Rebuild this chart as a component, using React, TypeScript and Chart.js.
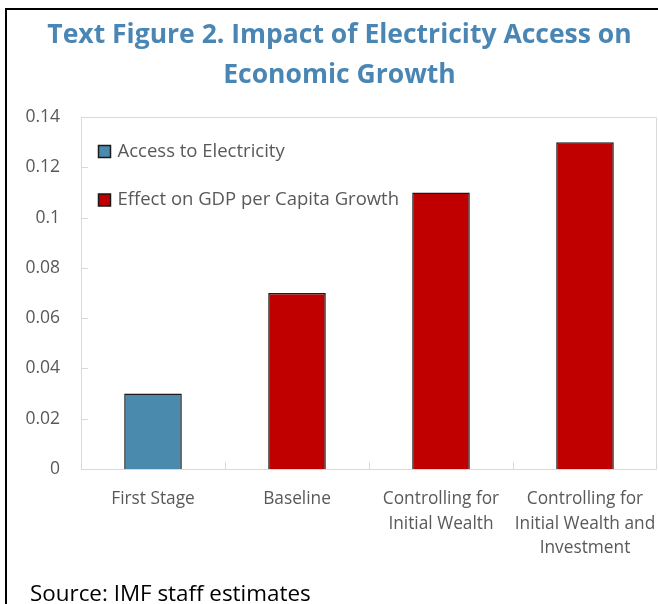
import React, { useEffect, useRef } from "react";
import { Chart, registerables } from "chart.js";

Chart.register(...registerables);

const titleLines = ["Text Figure 2. Impact of Electricity Access on", "Economic Growth"];
const categories: string[][] = [
  ["First Stage"],
  ["Baseline"],
  ["Controlling for", "Initial Wealth"],
  ["Controlling for", "Initial Wealth and", "Investment"],
];
const seriesNames = ["Access to Electricity", "Effect on GDP per Capita Growth"];
const accessValues: (number | null)[] = [0.03, null, null, null];
const effectValues: (number | null)[] = [null, 0.07, 0.11, 0.13];
const yMin = 0;
const yMax = 0.14;
const yStep = 0.02;
const sourceText = "Source: IMF staff estimates";

const FONT = "'Open Sans', 'Noto Sans', sans-serif";
const BLUE = "#4a8aad";
const RED = "#c00000";
const EDGE = "#1a1a1a";
const FRAME = "#d9d9d9";
const TEXT = "#595959";
const TITLE = "#4a86b4";

const framePlugin = {
  id: "frameAndTicks",
  beforeDatasetsDraw(chart: any) {
    const { ctx, chartArea: ca, scales } = chart;
    ctx.save();
    ctx.strokeStyle = FRAME;
    ctx.lineWidth = 1;
    ctx.beginPath();
    ctx.rect(Math.round(ca.left) + 0.5, Math.round(ca.top) + 0.5, Math.round(ca.right - ca.left) - 1, Math.round(ca.bottom - ca.top));
    ctx.stroke();
    const y = scales.y;
    ctx.beginPath();
    y.ticks.forEach((t: any) => {
      const py = Math.round(y.getPixelForValue(t.value)) + 0.5;
      ctx.moveTo(ca.left, py);
      ctx.lineTo(ca.left + 7, py);
    });
    const x = scales.x;
    for (let i = 1; i < categories.length; i++) {
      const px = Math.round((x.getPixelForValue(i - 1) + x.getPixelForValue(i)) / 2) + 0.5;
      ctx.moveTo(px, ca.bottom);
      ctx.lineTo(px, ca.bottom - 7);
    }
    ctx.stroke();
    ctx.restore();
  },
};

const legendPlugin = {
  id: "innerLegend",
  afterDraw(chart: any) {
    const { ctx, chartArea: ca } = chart;
    ctx.save();
    ctx.font = `18.5px ${FONT}`;
    ctx.textBaseline = "middle";
    ctx.textAlign = "left";
    chart.data.datasets.forEach((ds: any, i: number) => {
      const bx = ca.left + 17.5;
      const by = ca.top + 28.5 + i * 48.5;
      ctx.fillStyle = ds.backgroundColor;
      ctx.fillRect(bx, by, 12, 12);
      ctx.strokeStyle = EDGE;
      ctx.lineWidth = 1.5;
      ctx.strokeRect(bx, by, 12, 12);
      ctx.fillStyle = TEXT;
      ctx.fillText(ds.label, bx + 19, by + 6);
    });
    ctx.restore();
  },
};

const LEFT_PAD = 22;

export default function App() {
  const ref = useRef<HTMLCanvasElement | null>(null);
  useEffect(() => {
    if (!ref.current) return;
    const chart = new Chart(ref.current, {
      type: "bar",
      data: {
        labels: categories,
        datasets: [
          {
            label: seriesNames[0],
            data: accessValues,
            backgroundColor: BLUE,
            borderColor: EDGE,
            borderWidth: 1.5,
          },
          {
            label: seriesNames[1],
            data: effectValues,
            backgroundColor: RED,
            borderColor: EDGE,
            borderWidth: 1.5,
          },
        ],
      },
      options: {
        animation: false,
        responsive: false,
        maintainAspectRatio: false,
        skipNull: true,
        categoryPercentage: 1,
        barPercentage: 0.4,
        layout: { padding: { left: LEFT_PAD, right: 1, top: 0, bottom: 0 } },
        plugins: {
          legend: { display: false },
          tooltip: { enabled: false },
          title: {
            display: true,
            text: titleLines,
            color: TITLE,
            font: { family: FONT, size: 26.5, weight: "bold", lineHeight: 40 / 26.5 },
            padding: { top: 15, bottom: 22 },
          },
        },
        scales: {
          x: {
            grid: { display: false, drawTicks: false },
            border: { display: false },
            ticks: {
              color: TEXT,
              font: { family: FONT, size: 17.3, lineHeight: 24.5 / 17.3 },
              padding: 18,
              maxRotation: 0,
              autoSkip: false,
            },
            afterFit(scale: any) {
              scale.height = 135;
              scale.paddingLeft = 0;
              scale.paddingRight = 0;
              scale.paddingTop = 0;
              scale.paddingBottom = 0;
            },
          },
          y: {
            min: yMin,
            max: yMax,
            grid: { display: false, drawTicks: false },
            border: { display: false },
            ticks: {
              stepSize: yStep,
              color: TEXT,
              font: { family: FONT, size: 17.5 },
              padding: 21,
              callback: (v: any) => String(Number(Number(v).toFixed(2))),
            },
            afterFit(scale: any) {
              scale.width = 81 - LEFT_PAD;
              scale.paddingLeft = 0;
              scale.paddingRight = 0;
              scale.paddingTop = 0;
              scale.paddingBottom = 0;
            },
          },
        },
      } as any,
      plugins: [framePlugin, legendPlugin],
    });
    return () => chart.destroy();
  }, []);

  return (
    <div style={{ position: "absolute", left: 0, top: 0, width: 658, height: 604, overflow: "hidden", background: "#fff" }}>
      <canvas ref={ref} width={658} height={604} style={{ position: "absolute", left: 0, top: 0, width: 658, height: 604 }} />
      <div style={{ position: "absolute", left: 5, top: 8, width: 660, height: 610, borderTop: "2px solid #000", borderLeft: "2px solid #000", pointerEvents: "none" }} />
      <div style={{ position: "absolute", left: 30, top: 582, fontFamily: FONT, fontSize: 22.4, lineHeight: 1, color: "#000", whiteSpace: "nowrap" }}>
        {sourceText}
      </div>
    </div>
  );
}
